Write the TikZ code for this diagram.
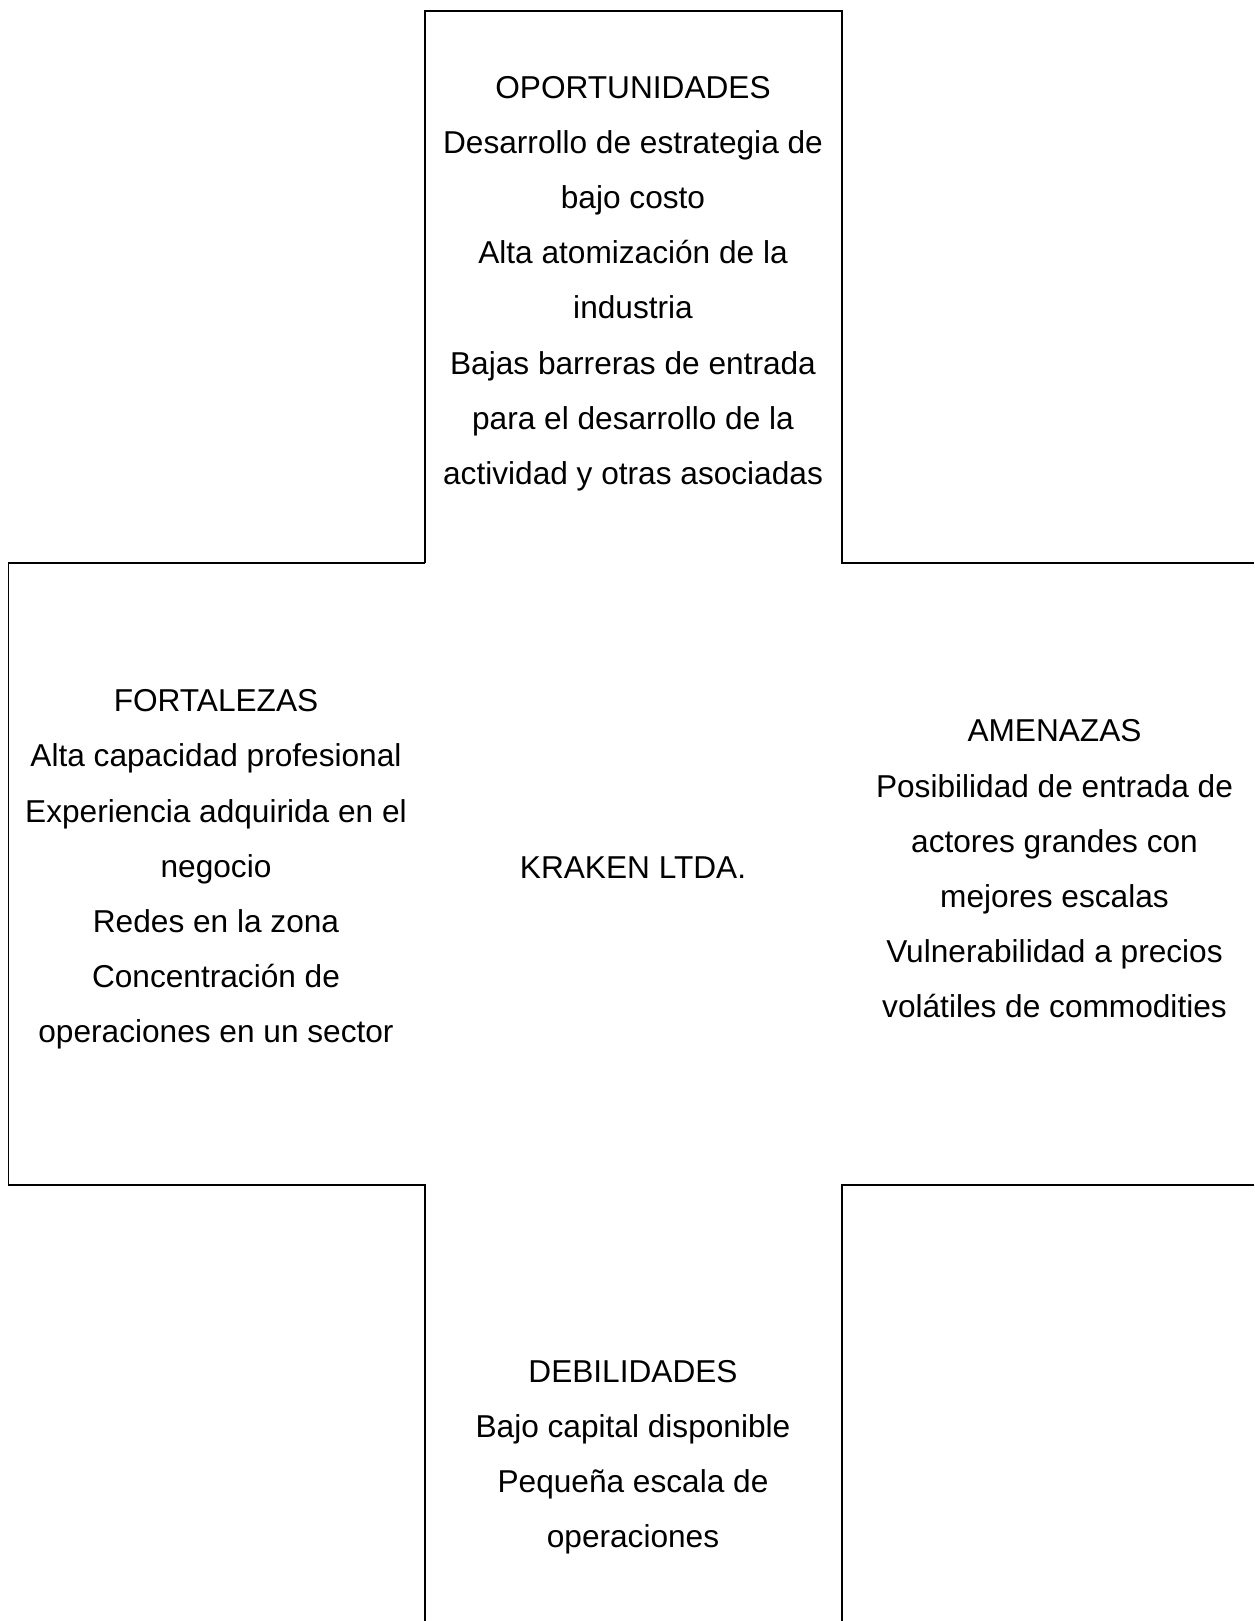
\documentclass[tikz,border=0pt]{standalone}
\usepackage{fontspec}
\setmainfont{Liberation Sans}
\begin{document}
\begin{tikzpicture}[
            texto/.style={align=center, inner sep=0pt, font=\fontsize{18pt}{31.4pt}\selectfont},
            borde/.style={line width=0.9pt, black}
        ]
            % Marco de la página
            \useasboundingbox (0,0) rectangle (25.08,-32.42);
            
            % Contorno de la cruz
            \draw[borde] (8.5,-11.26) -- (8.5,-0.22) -- (16.834,-0.22) -- (16.834,-11.26) -- (25.08,-11.26);
            \draw[borde] (8.5,-11.26) -- (0.166,-11.26) -- (0.166,-23.7) -- (8.5,-23.7) -- (8.5,-32.42);
            \draw[borde] (25.08,-23.7) -- (16.834,-23.7) -- (16.834,-32.42);
            
            % Textos de cada cuadrante
            \node[texto] (oportunidades) at (12.66,-5.67) {OPORTUNIDADES\\Desarrollo de estrategia de\\bajo costo\\Alta atomización de la\\industria\\Bajas barreras de entrada\\para el desarrollo de la\\actividad y otras asociadas};
            \node[texto] (fortalezas) at (4.32,-17.39) {FORTALEZAS\\Alta capacidad profesional\\Experiencia adquirida en el\\negocio\\Redes en la zona\\Concentración de\\operaciones en un sector};
            \node[texto] (empresa) at (12.66,-17.35) {KRAKEN LTDA.};
            \node[texto] (amenazas) at (21.09,-17.38) {AMENAZAS\\Posibilidad de entrada de\\actores grandes con\\mejores escalas\\Vulnerabilidad a precios\\volátiles de commodities};
            \node[texto] (debilidades) at (12.66,-29.14) {DEBILIDADES\\Bajo capital disponible\\Pequeña escala de\\operaciones};
        \end{tikzpicture}
\end{document}
